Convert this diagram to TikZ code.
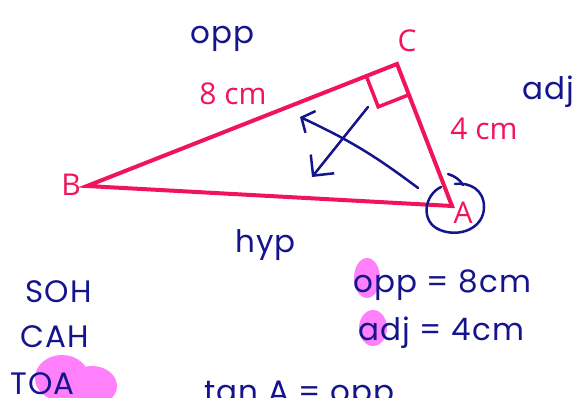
\documentclass[tikz,border=0pt]{standalone}
\usepackage{fontspec}
\setmainfont{Open Sans}
\newfontfamily\handfont{Poppins}[LetterSpace=4]
\usetikzlibrary{positioning, arrows.meta, calc}
\definecolor{pinkColor}{RGB}{240, 20, 90}
\definecolor{inkColor}{RGB}{20, 20, 140}
\definecolor{markColor}{RGB}{255, 128, 250}

\begin{document}
\begin{tikzpicture}[
        x=1pt, y=-1pt,
        etiqueta/.style={
            text=pinkColor,
            font=\fontsize{30}{30}\selectfont,
            inner sep=0pt,
            anchor=base
        },
        tinta/.style={
            text=inkColor,
            font=\handfont\fontsize{31}{31}\selectfont,
            inner sep=0pt,
            anchor=base west
        },
        lado/.style={
            draw=pinkColor,
            line width=4pt,
            line join=miter
        },
        pluma/.style={
            draw=inkColor,
            line width=2.5pt,
            line cap=round,
            line join=round
        },
        flecha/.style={
            pluma,
            -{Straight Barb[length=15pt, width=30pt, line width=2.5pt]}
        },
        mancha/.style={
            fill=markColor
        }
    ]

        \useasboundingbox (0,0) rectangle (583,398);
        \clip (0,0) rectangle (583,398);

        % highlights
        \fill[mancha] (62,378) ellipse [x radius=27, y radius=23];
        \fill[mancha] (92,386) ellipse [x radius=25, y radius=20];
        \fill[mancha] (367,278) ellipse [x radius=13, y radius=20];
        \fill[mancha] (373,328) ellipse [x radius=14, y radius=18];

        % triangle
        \coordinate (B) at (87,186);
        \coordinate (C) at (397,64);
        \coordinate (A) at (452,206);
        \draw[lado] (B) -- (C) -- (A) -- cycle;
        \coordinate (rb) at ($(C)!33pt!(B)$);
        \coordinate (ra) at ($(C)!33pt!(A)$);
        \coordinate (rc) at ($(rb)+(ra)-(C)$);
        \draw[lado, line width=3.5pt] (rb) -- (rc) -- (ra);

        \node[etiqueta] (labC) at (407,52) {C};
        \node[etiqueta] (labB) at (71,195) {B};
        \node[etiqueta] (labA) at (463,223) {A};
        \node[etiqueta] (hipo) at (233,105) {8 cm};
        \node[etiqueta] (cateto) at (484,140) {4 cm};

        % notes
        \node[tinta] (opp) at (190,44) {opp};
        \node[tinta] (adj) at (522,100) {adj};
        \node[tinta] (hyp) at (235,252) {hyp};
        \node[tinta] (soh) at (25,302) {SOH};
        \node[tinta] (cah) at (20,347) {CAH};
        \node[tinta] (toa) at (10,394) {TOA};
        \node[tinta] (oppval) at (353,292) {opp = 8cm};
        \node[tinta] (adjval) at (358,340) {adj = 4cm};
        \node[tinta] (tanA) at (204,402) {tan A = opp};

        % circle round A
        \draw[pluma] (441,187) .. controls (424,195) and (420,222) .. (440,230)
            .. controls (460,238) and (484,228) .. (484,207)
            .. controls (484,190) and (470,182) .. (455,184);
        \draw[pluma] (448,174) .. controls (455,176) and (460,180) .. (463,185);

        % arrows
        \coordinate (uno) at (368,107);
        \coordinate (unoFin) at (312,177);
        \coordinate (dos) at (418,188);
        \coordinate (dosFin) at (300,117);
        \draw[flecha] (uno) -- (unoFin);
        \draw[flecha, -{Straight Barb[length=10pt, width=24pt, line width=2.5pt]}] (dos) to[bend right=6] (dosFin);

    \end{tikzpicture}
\end{document}
